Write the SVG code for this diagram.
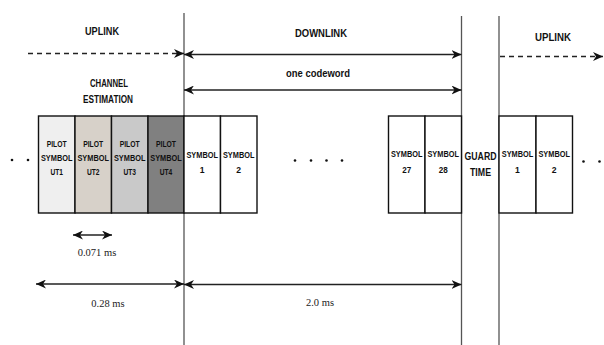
<svg xmlns="http://www.w3.org/2000/svg" width="604" height="345" viewBox="0 0 604 345">
<style>
.lbl{font-family:"Liberation Sans",Arial,sans-serif;font-weight:bold;fill:#111;text-anchor:middle}
.s9{font-size:8.6px}
.s10{font-size:10.5px}
.s11{font-size:11.5px}
.ms{font-family:"Liberation Serif","DejaVu Serif",serif;font-size:10.5px;fill:#222;text-anchor:middle}
.box{stroke:#111;stroke-width:1.4}
.vline{stroke:#555;stroke-width:1.3;fill:none}
.arr{stroke:#222;stroke-width:1.3;fill:none}
.dash{stroke:#222;stroke-width:1.3;fill:none;stroke-dasharray:5,4}
.dot{fill:#111}
</style>
<defs>
<marker id="ah" markerUnits="userSpaceOnUse" markerWidth="10" markerHeight="9" viewBox="0 0 10 9" refX="10" refY="4.5" orient="auto-start-reverse">
<path d="M0,0 L10,4.5 L0,9 L3,4.5 z" fill="#111"/>
</marker>
</defs>

<g id="connectors">
<line class="vline" x1="184" y1="13" x2="184" y2="345"/>
<line class="vline" x1="461.5" y1="16" x2="461.5" y2="345"/>
<line class="vline" x1="499" y1="16" x2="499" y2="345"/>
<line class="dash" x1="28" y1="53.5" x2="184" y2="53.5" marker-end="url(#ah)"/>
<line class="arr" x1="184" y1="54.5" x2="461.5" y2="54.5" marker-start="url(#ah)" marker-end="url(#ah)"/>
<line class="dash" x1="500" y1="56.5" x2="603" y2="56.5" marker-end="url(#ah)"/>
<line class="arr" x1="184" y1="90" x2="461.5" y2="90" marker-start="url(#ah)" marker-end="url(#ah)"/>
<line class="arr" x1="73" y1="235" x2="112" y2="235" marker-start="url(#ah)" marker-end="url(#ah)"/>
<line class="arr" x1="36" y1="284" x2="184" y2="284" marker-start="url(#ah)" marker-end="url(#ah)"/>
<line class="arr" x1="184" y1="284.5" x2="461.5" y2="284.5" marker-start="url(#ah)" marker-end="url(#ah)"/>
</g>

<g id="pilot-ut1">
<rect class="box" x="38.5" y="116" width="36.5" height="97" fill="#efefef"/>
<text class="lbl s9" x="56.7" y="146.5" textLength="20" lengthAdjust="spacingAndGlyphs">PILOT</text>
<text class="lbl s9" x="56.7" y="161" textLength="31.5" lengthAdjust="spacingAndGlyphs">SYMBOL</text>
<text class="lbl s9" x="56.7" y="175" textLength="12.5" lengthAdjust="spacingAndGlyphs">UT1</text>
</g>
<g id="pilot-ut2">
<rect class="box" x="75" y="116" width="36.5" height="97" fill="#d7d1c9"/>
<text class="lbl s9" x="93.2" y="146.5" textLength="20" lengthAdjust="spacingAndGlyphs">PILOT</text>
<text class="lbl s9" x="93.2" y="161" textLength="31.5" lengthAdjust="spacingAndGlyphs">SYMBOL</text>
<text class="lbl s9" x="93.2" y="175" textLength="12.5" lengthAdjust="spacingAndGlyphs">UT2</text>
</g>
<g id="pilot-ut3">
<rect class="box" x="111.5" y="116" width="36.5" height="97" fill="#c9c9c9"/>
<text class="lbl s9" x="129.7" y="146.5" textLength="20" lengthAdjust="spacingAndGlyphs">PILOT</text>
<text class="lbl s9" x="129.7" y="161" textLength="31.5" lengthAdjust="spacingAndGlyphs">SYMBOL</text>
<text class="lbl s9" x="129.7" y="175" textLength="12.5" lengthAdjust="spacingAndGlyphs">UT3</text>
</g>
<g id="pilot-ut4">
<rect class="box" x="148" y="116" width="36" height="97" fill="#808080"/>
<text class="lbl s9" x="166" y="146.5" textLength="20" lengthAdjust="spacingAndGlyphs">PILOT</text>
<text class="lbl s9" x="166" y="161" textLength="31.5" lengthAdjust="spacingAndGlyphs">SYMBOL</text>
<text class="lbl s9" x="166" y="175" textLength="12.5" lengthAdjust="spacingAndGlyphs">UT4</text>
</g>
<g id="dl-symbol-1">
<rect class="box" x="184" y="116" width="36.5" height="97" fill="#fff"/>
<text class="lbl s9" x="202.2" y="157.5" textLength="31.5" lengthAdjust="spacingAndGlyphs">SYMBOL</text>
<text class="lbl s9" x="202.2" y="172.5">1</text>
</g>
<g id="dl-symbol-2">
<rect class="box" x="220.5" y="116" width="36.5" height="97" fill="#fff"/>
<text class="lbl s9" x="238.7" y="157.5" textLength="31.5" lengthAdjust="spacingAndGlyphs">SYMBOL</text>
<text class="lbl s9" x="238.7" y="172.5">2</text>
</g>
<g id="dl-symbol-27">
<rect class="box" x="388.5" y="116" width="36.5" height="97" fill="#fff"/>
<text class="lbl s9" x="406.7" y="157" textLength="31.5" lengthAdjust="spacingAndGlyphs">SYMBOL</text>
<text class="lbl s9" x="406.7" y="173" textLength="9" lengthAdjust="spacingAndGlyphs">27</text>
</g>
<g id="dl-symbol-28">
<rect class="box" x="425" y="116" width="36.5" height="97" fill="#fff"/>
<text class="lbl s9" x="443.2" y="157" textLength="31.5" lengthAdjust="spacingAndGlyphs">SYMBOL</text>
<text class="lbl s9" x="443.2" y="173" textLength="9" lengthAdjust="spacingAndGlyphs">28</text>
</g>
<g id="guard-time">
<text class="lbl s10" x="480.5" y="159.5" textLength="32" lengthAdjust="spacingAndGlyphs">GUARD</text>
<text class="lbl s10" x="480.5" y="176" textLength="21" lengthAdjust="spacingAndGlyphs">TIME</text>
</g>
<g id="ul-symbol-1">
<rect class="box" x="499" y="116" width="37" height="97" fill="#fff"/>
<text class="lbl s9" x="517.5" y="157" textLength="31.5" lengthAdjust="spacingAndGlyphs">SYMBOL</text>
<text class="lbl s9" x="517.5" y="173">1</text>
</g>
<g id="ul-symbol-2">
<rect class="box" x="536" y="116" width="36.5" height="97" fill="#fff"/>
<text class="lbl s9" x="554.2" y="157" textLength="31.5" lengthAdjust="spacingAndGlyphs">SYMBOL</text>
<text class="lbl s9" x="554.2" y="173">2</text>
</g>

<g id="labels">
<text class="lbl s11" x="102" y="34.5" textLength="34" lengthAdjust="spacingAndGlyphs">UPLINK</text>
<text class="lbl s11" x="321" y="36.5" textLength="52" lengthAdjust="spacingAndGlyphs">DOWNLINK</text>
<text class="lbl s11" x="318" y="77" textLength="64" lengthAdjust="spacingAndGlyphs">one codeword</text>
<text class="lbl s11" x="553" y="41" textLength="36" lengthAdjust="spacingAndGlyphs">UPLINK</text>
<text class="lbl s10" x="109" y="87" textLength="38" lengthAdjust="spacingAndGlyphs">CHANNEL</text>
<text class="lbl s10" x="108" y="103" textLength="50" lengthAdjust="spacingAndGlyphs">ESTIMATION</text>
<text class="ms" x="97" y="255.5">0.071 ms</text>
<text class="ms" x="108" y="306.5">0.28 ms</text>
<text class="ms" x="320" y="306">2.0 ms</text>
</g>

<g id="ellipsis">
<circle class="dot" cx="12" cy="160" r="1.3"/>
<circle class="dot" cx="28" cy="160" r="1.3"/>
<circle class="dot" cx="295" cy="160.5" r="1.3"/>
<circle class="dot" cx="311" cy="160.5" r="1.3"/>
<circle class="dot" cx="326.5" cy="160.5" r="1.3"/>
<circle class="dot" cx="342" cy="160.5" r="1.3"/>
<circle class="dot" cx="583.5" cy="161.5" r="1.3"/>
<circle class="dot" cx="599.5" cy="161.5" r="1.3"/>
</g>
</svg>
